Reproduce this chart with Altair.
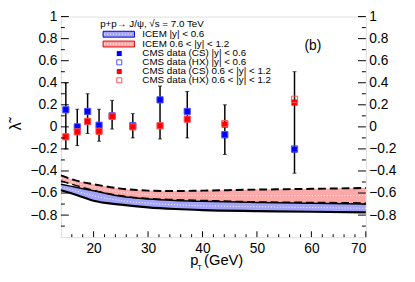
import altair as alt
import pandas as pd

# ---------------- data ----------------
pt = [14.9, 17.0, 18.9, 21.0, 23.4, 27.2, 32.2, 37.2, 44.1, 56.9]
blue_cs = [0.155, 0.0, 0.14, 0.015, 0.10, 0.01, 0.245, 0.14, -0.075, -0.205]
blue_hx = [0.155, 0.0, 0.14, 0.015, 0.10, 0.01, 0.245, 0.14, -0.07, -0.20]
red_cs = [-0.09, -0.045, 0.05, -0.04, 0.09, 0.0, 0.01, 0.07, 0.02, 0.22]
red_hx = [-0.09, -0.045, 0.05, -0.04, 0.095, 0.0, 0.01, 0.07, 0.03, 0.25]
err_hi = [0.40, 0.16, 0.30, 0.16, 0.24, 0.12, 0.37, 0.32, 0.20, 0.50]
err_lo = [-0.20, -0.17, -0.06, -0.13, -0.02, -0.10, -0.11, -0.10, -0.25, -0.42]

band_pt = [14, 17, 20, 25, 30, 35, 40, 50, 60, 70]
red_top = [-0.44, -0.49, -0.52, -0.56, -0.578, -0.582, -0.578, -0.569, -0.562, -0.554]
red_bot = [-0.49, -0.535, -0.575, -0.625, -0.65, -0.66, -0.667, -0.68, -0.685, -0.69]
blue_top = [-0.52, -0.55, -0.58, -0.63, -0.655, -0.668, -0.675, -0.685, -0.693, -0.70]
blue_bot = [-0.575, -0.62, -0.67, -0.705, -0.73, -0.745, -0.755, -0.764, -0.77, -0.776]

x_labels = [20, 30, 40, 50, 60, 70]
x_minor = [16, 18, 22, 24, 26, 28, 32, 34, 36, 38, 42, 44, 46, 48, 52, 54, 56, 58, 62, 64, 66, 68]
y_labels = [-0.8, -0.6, -0.4, -0.2, 0, 0.2, 0.4, 0.6, 0.8, 1]
y_minor = [-0.9, -0.7, -0.5, -0.3, -0.1, 0.1, 0.3, 0.5, 0.7, 0.9]

legend_title = "p+p\u2192 J/\u03c8, \u221as = 7.0 TeV"
legend_labels = ["ICEM |y| < 0.6", "ICEM 0.6 < |y| < 1.2",
                 "CMS data (CS) |y| < 0.6", "CMS data (HX) |y| < 0.6",
                 "CMS data (CS) 0.6 < |y| < 1.2", "CMS data (HX) 0.6 < |y| < 1.2"]

# ---------------- setup ----------------
W, H = 311, 225
FONT = "Liberation Sans"
BLUE = "#0000ff"
RED = "#ff0000"
BLUE_FILL = "#a3a3fa"
RED_FILL = "#ffa8a8"

xs = alt.Scale(domain=[14, 70], nice=False, zero=False)
ys = alt.Scale(domain=[-1, 1], nice=False, zero=False)

band = pd.DataFrame({"pt": band_pt, "rt": red_top, "rb": red_bot, "bt": blue_top, "bb": blue_bot,
                     "rm": [(a + b) / 2 for a, b in zip(red_top, red_bot)],
                     "bm": [(a + b) / 2 for a, b in zip(blue_top, blue_bot)]})
pts = pd.DataFrame({"pt": pt, "bcs": blue_cs, "bhx": blue_hx, "rcs": red_cs, "rhx": red_hx,
                    "hi": err_hi, "lo": err_lo})

X = lambda f: alt.X(f, type="quantitative", scale=xs, axis=None)
Y = lambda f: alt.Y(f, type="quantitative", scale=ys, axis=None)

base_b = alt.Chart(band)
base_p = alt.Chart(pts)

layers = []
# bands
layers.append(base_b.mark_area(color=BLUE_FILL, opacity=1, interpolate="monotone").encode(
    x=X("pt"), y=Y("bb"), y2="bt"))
layers.append(base_b.mark_area(color=RED_FILL, opacity=1, interpolate="monotone").encode(
    x=X("pt"), y=Y("rb"), y2="rt"))
layers.append(base_b.mark_line(color="white", strokeWidth=1, strokeDash=[1, 2], interpolate="monotone").encode(
    x=X("pt"), y=Y("bm")))
layers.append(base_b.mark_line(color="white", strokeWidth=1, strokeDash=[1, 2], interpolate="monotone").encode(
    x=X("pt"), y=Y("rm")))
layers.append(base_b.mark_line(color="black", strokeWidth=2, strokeDash=[8, 4], interpolate="monotone").encode(
    x=X("pt"), y=Y("rt")))
layers.append(base_b.mark_line(color="black", strokeWidth=1.5, strokeDash=[8, 4], interpolate="monotone").encode(
    x=X("pt"), y=Y("rb")))
layers.append(base_b.mark_line(color="black", strokeWidth=1.5, interpolate="monotone").encode(
    x=X("pt"), y=Y("bt")))
layers.append(base_b.mark_line(color="black", strokeWidth=2.2, interpolate="monotone").encode(
    x=X("pt"), y=Y("bb")))

# error bars
layers.append(base_p.mark_rule(color="black", strokeWidth=1.5).encode(x=X("pt"), y=Y("lo"), y2="hi"))
layers.append(base_p.mark_tick(color="black", orient="horizontal", size=4, thickness=1).encode(x=X("pt"), y=Y("lo")))
layers.append(base_p.mark_tick(color="black", orient="horizontal", size=4, thickness=1).encode(x=X("pt"), y=Y("hi")))

# markers
layers.append(base_p.mark_point(shape="square", filled=True, size=40, color=BLUE, opacity=1).encode(x=X("pt"), y=Y("bcs")))
layers.append(base_p.mark_point(shape="square", filled=False, size=40, color="#5050ff", strokeWidth=1, opacity=1).encode(x=X("pt"), y=Y("bhx")))
layers.append(base_p.mark_point(shape="square", filled=True, size=40, color=RED, opacity=1).encode(x=X("pt"), y=Y("rcs")))
layers.append(base_p.mark_point(shape="square", filled=False, size=40, color="#ff5050", strokeWidth=1, opacity=1).encode(x=X("pt"), y=Y("rhx")))

# tick marks (inward)
ymaj = alt.Chart(pd.DataFrame({"v": y_labels}))
ymin = alt.Chart(pd.DataFrame({"v": y_minor}))
xmaj = alt.Chart(pd.DataFrame({"v": x_labels}))
xmin = alt.Chart(pd.DataFrame({"v": x_minor}))
tk = dict(color="black", strokeWidth=1)
layers.append(ymaj.mark_rule(**tk).encode(y=Y("v"), x=alt.value(0), x2=alt.value(8)))
layers.append(ymin.mark_rule(**tk).encode(y=Y("v"), x=alt.value(0), x2=alt.value(4)))
layers.append(ymaj.mark_rule(**tk).encode(y=Y("v"), x=alt.value(W), x2=alt.value(W - 8)))
layers.append(ymin.mark_rule(**tk).encode(y=Y("v"), x=alt.value(W), x2=alt.value(W - 4)))
layers.append(xmaj.mark_rule(**tk).encode(x=X("v"), y=alt.value(H), y2=alt.value(H - 6)))
layers.append(xmin.mark_rule(**tk).encode(x=X("v"), y=alt.value(H), y2=alt.value(H - 3)))

# axes labels (left, right, bottom)
axis_common = dict(ticks=False, domain=False, grid=False, labelFont=FONT, labelFontSize=14,
                   labelColor="black", title=None)
layers.append(ymaj.mark_point(opacity=0).encode(
    y=alt.Y("v:Q", scale=ys, axis=alt.Axis(orient="left", values=y_labels, labelPadding=4,
                                           format=".1~f", **axis_common))))
layers.append(ymaj.mark_point(opacity=0).encode(
    y=alt.Y("v:Q", scale=ys, axis=alt.Axis(orient="right", values=y_labels, labelPadding=3,
                                           format=".1~f", **axis_common))))
layers.append(xmaj.mark_point(opacity=0).encode(
    x=alt.X("v:Q", scale=xs, axis=alt.Axis(orient="bottom", values=x_labels, labelPadding=5,
                                           format="d", **axis_common))))

one = pd.DataFrame({"a": [0]})

def txt(s, x, y, size=10, align="left", baseline="middle", angle=0):
    kw = dict(font=FONT, fontSize=size, align=align, baseline=baseline, color="black")
    if angle:
        kw["angle"] = angle
    return alt.Chart(one).mark_text(**kw).encode(x=alt.value(x), y=alt.value(y), text=alt.value(s))

# axis titles
layers.append(txt("\u03bb\u0303", -46, 112, size=16, align="center", angle=270))
layers.append(txt("p", 132, 253, size=15, baseline="alphabetic"))
layers.append(txt("T", 139, 258, size=8, baseline="alphabetic"))
layers.append(txt("(GeV)", 146, 253, size=15, baseline="alphabetic"))
layers.append(txt("(b)", 257, 30, size=14, align="center"))

# legend
layers.append(txt(legend_title, 40, 7.5, size=10))
sw = alt.Chart(one)
layers.append(sw.mark_rect(fill=BLUE_FILL, stroke="#0000cc", strokeWidth=1).encode(
    x=alt.value(43), x2=alt.value(75), y=alt.value(15), y2=alt.value(21)))
layers.append(sw.mark_rule(color="white", strokeDash=[1, 2]).encode(
    x=alt.value(44), x2=alt.value(74), y=alt.value(18)))
layers.append(sw.mark_rect(fill=RED_FILL, stroke="#dd0000", strokeWidth=1).encode(
    x=alt.value(43), x2=alt.value(75), y=alt.value(25), y2=alt.value(31)))
layers.append(sw.mark_rule(color="white", strokeDash=[1, 2]).encode(
    x=alt.value(44), x2=alt.value(74), y=alt.value(28)))
legend_marks = [(True, BLUE), (False, "#5050ff"), (True, RED), (False, "#ff5050")]
marker_y = [37.7, 46.7, 56, 65]
for (filled, c), yy in zip(legend_marks, marker_y):
    layers.append(sw.mark_point(shape="square", filled=filled, size=26, color=c, opacity=1, strokeWidth=1).encode(
        x=alt.value(59.5), y=alt.value(yy)))
label_y = [17.5, 27.7, 37.7, 46.7, 56, 65]
for s, yy in zip(legend_labels, label_y):
    layers.append(txt(s, 83, yy, size=10))

chart = alt.layer(*layers).resolve_axis(y="independent", x="independent").properties(
    width=W, height=H,
    autosize=alt.AutoSizeParams(type="none"),
    padding={"left": 54, "top": 6, "right": 42, "bottom": 43},
).configure_view(stroke="black", strokeWidth=1).configure(background="white")

chart.save("out.html", embed_options={"renderer": "svg", "actions": False})
